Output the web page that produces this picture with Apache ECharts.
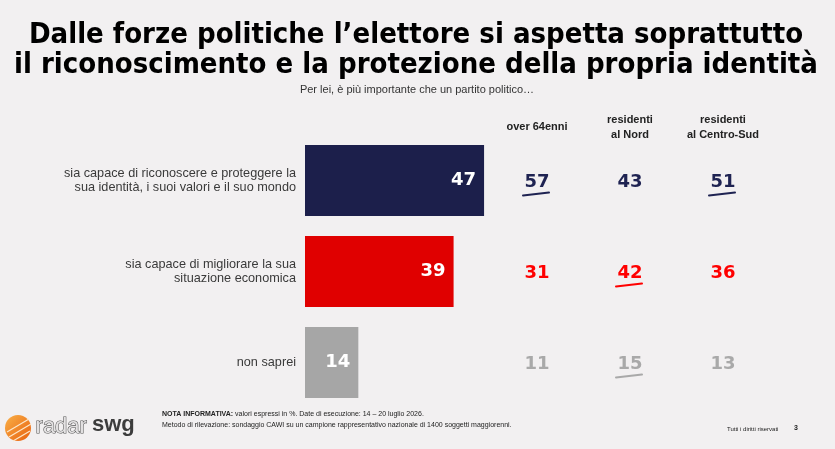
<!DOCTYPE html>
<html>
<head>
<meta charset="utf-8">
<script src="https://cdn.jsdelivr.net/npm/echarts@6/dist/echarts.min.js"></script>
<style>
html,body{margin:0;padding:0;background:#f2f0f1;}
#chart{width:835px;height:449px;}
</style>
</head>
<body>
<div id="chart"></div>
<script>
// ---- data ----
const categories = [
  'sia capace di riconoscere e proteggere la\nsua identità, i suoi valori e il suo mondo',
  'sia capace di migliorare la sua\nsituazione economica',
  'non saprei'
];
const totalValues = [47, 39, 14];
const columnLabels = ['over 64enni', 'residenti\nal Nord', 'residenti\nal Centro-Sud'];
const over64Values = [57, 31, 11];
const nordValues = [43, 42, 15];
const centroSudValues = [51, 36, 13];
// 1 = value underlined (significantly above total)
const over64Marked = [1, 0, 0];
const nordMarked = [0, 1, 1];
const centroSudMarked = [1, 0, 0];

const barColors = ['#1c1f4b', '#e00000', '#a6a6a6'];
const valueColors = ['#1f2352', '#ff0000', '#a9a9a9'];

const columnValues = [over64Values, nordValues, centroSudValues];
const columnMarked = [over64Marked, nordMarked, centroSudMarked];
const gridData = [];
columnValues.forEach((vals, c) => {
  vals.forEach((v, r) => gridData.push([c, r, v, columnMarked[c][r]]));
});

const chart = echarts.init(document.getElementById('chart'));
const option = {
  backgroundColor: '#f2f0f1',
  animation: false,
  grid: [
    { left: 305, top: 135, width: 381, height: 273 },
    { left: 490.5, top: 135, width: 279, height: 273 }
  ],
  xAxis: [
    { gridIndex: 0, type: 'value', min: 0, max: 100, show: false },
    {
      gridIndex: 1, type: 'category', data: columnLabels, position: 'top',
      axisLine: { show: false }, axisTick: { show: false }, splitLine: { show: false },
      axisLabel: {
        interval: 0, margin: 8, verticalAlign: 'middle',
        fontFamily: 'Liberation Sans', fontWeight: 'bold', fontSize: 11,
        lineHeight: 15, color: '#222'
      }
    }
  ],
  yAxis: [
    {
      gridIndex: 0, type: 'category', data: categories, inverse: true,
      axisLine: { show: false }, axisTick: { show: false }, splitLine: { show: false },
      axisLabel: {
        margin: 9, fontFamily: 'Liberation Sans', fontSize: 12.7, lineHeight: 14,
        color: '#3a3a3a', align: 'right'
      }
    },
    {
      gridIndex: 1, type: 'category', data: categories, inverse: true, show: false
    }
  ],
  series: [
    {
      type: 'bar', xAxisIndex: 0, yAxisIndex: 0, barWidth: 71,
      data: totalValues.map((v, i) => ({ value: v, itemStyle: { color: barColors[i] } })),
      label: {
        show: true, position: 'insideRight', distance: 8, color: '#fff',
        fontFamily: 'DejaVu Sans', fontWeight: 'bold', fontSize: 18
      }
    },
    {
      type: 'custom', xAxisIndex: 1, yAxisIndex: 1,
      encode: { x: 0, y: 1 },
      data: gridData,
      renderItem: function (params, api) {
        const p = api.coord([api.value(0), api.value(1)]);
        const row = api.value(1);
        const color = valueColors[row];
        const children = [{
          type: 'text',
          style: {
            text: String(api.value(2)), x: p[0], y: p[1] + 2,
            align: 'center', verticalAlign: 'middle', fill: color,
            font: 'bold 18px "DejaVu Sans"'
          }
        }];
        if (api.value(3)) {
          children.push({
            type: 'line',
            shape: { x1: p[0] - 14, y1: p[1] + 15, x2: p[0] + 12, y2: p[1] + 12 },
            style: { stroke: color, lineWidth: 2, lineCap: 'round' }
          });
        }
        return { type: 'group', children: children };
      }
    }
  ],
  graphic: [
    {
      type: 'text', x: 416, y: 20,
      style: {
        text: 'Dalle forze politiche l’elettore si aspetta soprattutto\nil riconoscimento e la protezione della propria identità',
        align: 'center', verticalAlign: 'top',
        font: 'bold 29px "DejaVu Sans Condensed"', lineHeight: 30,
        fill: '#000'
      }
    },
    {
      type: 'text', x: 417, y: 84,
      style: {
        text: 'Per lei, è più importante che un partito politico…',
        align: 'center', verticalAlign: 'top',
        font: '11px "Liberation Sans"', fill: '#333'
      }
    },
    // logo
    {
      type: 'circle', shape: { cx: 18, cy: 428, r: 13 },
      style: {
        fill: new echarts.graphic.LinearGradient(0, 0, 1, 1, [
          { offset: 0, color: '#f9b048' }, { offset: 1, color: '#e8600e' }
        ])
      }
    },
    { type: 'line', shape: { x1: 7, y1: 432, x2: 29, y2: 419 }, style: { stroke: '#fde6c8', lineWidth: 1.3 } },
    { type: 'line', shape: { x1: 9, y1: 437, x2: 31, y2: 424 }, style: { stroke: '#fde6c8', lineWidth: 1.3 } },
    { type: 'line', shape: { x1: 13, y1: 441, x2: 30, y2: 431 }, style: { stroke: '#fde6c8', lineWidth: 1.3 } },
    {
      type: 'text', left: 35, top: 415,
      style: { text: 'radar', font: '22px "Liberation Sans"', fill: '#e4e2e3', stroke: '#555', lineWidth: 1.1 }
    },
    {
      type: 'text', left: 92, top: 414,
      style: { text: 'swg', font: 'bold 22px "Liberation Sans"', fill: '#3c3c3c' }
    },
    // notes
    {
      type: 'text', left: 162, top: 409,
      style: {
        text: '{b|NOTA INFORMATIVA:} valori espressi in %. Date di esecuzione: 14 – 20 luglio 2026.\nMetodo di rilevazione: sondaggio CAWI su un campione rappresentativo nazionale di 1400 soggetti maggiorenni.',
        font: '7px "Liberation Sans"', fill: '#222', lineHeight: 11,
        rich: { b: { fontWeight: 'bold', fontSize: 7, fontFamily: 'Liberation Sans', fill: '#222' } }
      }
    },
    {
      type: 'text', left: 727, top: 426,
      style: { text: 'Tutti i diritti riservati', font: '6px "Liberation Sans"', fill: '#222' }
    },
    {
      type: 'text', left: 794, top: 425,
      style: { text: '3', font: 'bold 7px "Liberation Sans"', fill: '#222' }
    }
  ]
};
chart.setOption(option);
</script>
</body>
</html>
